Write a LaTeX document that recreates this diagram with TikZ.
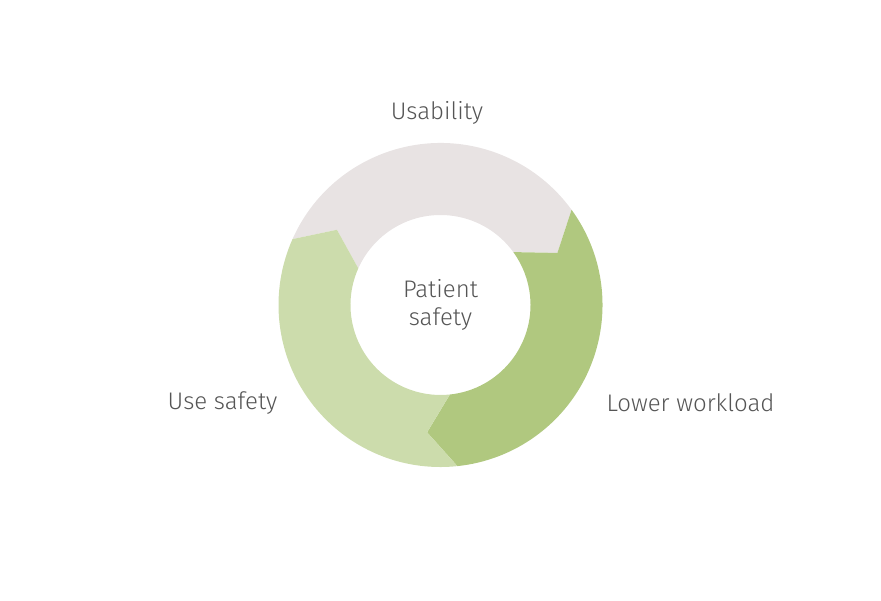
\documentclass[tikz,border=0pt]{standalone}
\usepackage{fontspec}
\setmainfont{Fira Sans}[UprightFont=* Light]
\definecolor{segGrey}{HTML}{E8E3E3}
\definecolor{segDark}{HTML}{B0C87F}
\definecolor{segLight}{HTML}{CCDCAC}
\definecolor{txt}{HTML}{555555}
\begin{document}
\begin{tikzpicture}[x=1pt,y=1pt,
  lbl/.style={text=txt,font=\fontsize{24}{28}\selectfont,inner sep=0pt,align=center}]
\useasboundingbox (0,0) rectangle (881,600);
\def\Ro{162}\def\Ri{90}\def\Rt{128}
\begin{scope}[shift={(440.5,295)}]
\fill[segGrey] (156:\Ro) arc[start angle=156,end angle=36,radius=\Ro] -- (24:\Rt) -- (36:\Ri)
  arc[start angle=36,end angle=156,radius=\Ri] -- (144:\Rt) -- cycle;
\fill[segDark] (36:\Ro) arc[start angle=36,end angle=-84,radius=\Ro] -- (-96:\Rt) -- (-84:\Ri)
  arc[start angle=-84,end angle=36,radius=\Ri] -- (24:\Rt) -- cycle;
\fill[segLight] (-84:\Ro) arc[start angle=-84,end angle=-204,radius=\Ro] -- (144:\Rt) -- (156:\Ri)
  arc[start angle=-204,end angle=-84,radius=\Ri] -- (-96:\Rt) -- cycle;
\node[lbl] (center) at (0,0) {Patient\\safety};
\end{scope}
\node[lbl] (usab) at (437,487) {Usability};
\node[lbl] (use) at (222.5,197) {Use safety};
\node[lbl] (lower) at (690.5,197) {Lower workload};
\end{tikzpicture}
\end{document}
